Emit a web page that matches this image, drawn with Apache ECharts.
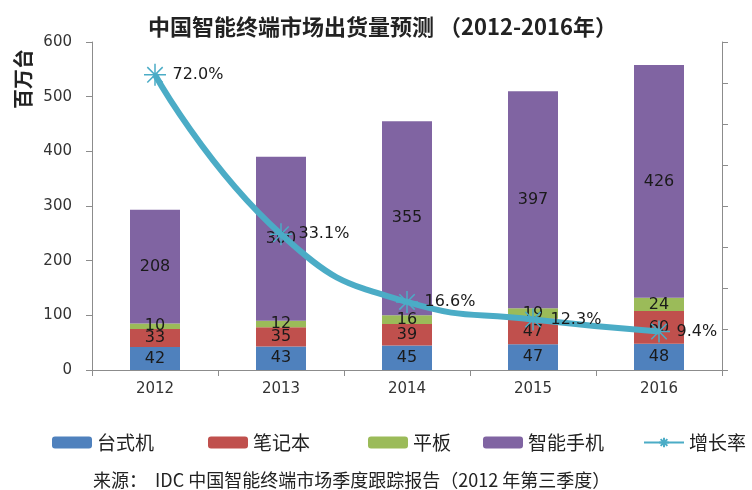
<!DOCTYPE html>
<html>
<head>
<meta charset="utf-8">
<script src="https://cdn.jsdelivr.net/npm/echarts@6/dist/echarts.min.js"></script>
<style>
  html, body { margin: 0; padding: 0; background: #fff; }
  #main { width: 752px; height: 490px; }
</style>
</head>
<body>
<div id="main"></div>
<script>
// data
var years = ['2012', '2013', '2014', '2015', '2016']
var desktop = [42, 43, 45, 47, 48]
var notebook = [33, 35, 39, 47, 60]
var tablet = [10, 12, 16, 19, 24]
var smartphone = [208, 300, 355, 397, 426]
var growth = [72.0, 33.1, 16.6, 12.3, 9.4]

var FONT = '"Noto Sans CJK SC", "DejaVu Sans", sans-serif'
var NUM = '"DejaVu Sans", sans-serif'

var chart = echarts.init(document.getElementById('main'))

function barSeries (name, data, color) {
  return {
    name: name,
    type: 'bar',
    stack: 'total',
    barWidth: 50,
    data: data,
    itemStyle: { color: color },
    label: {
      show: true,
      position: 'inside',
      color: '#1a1a1a',
      fontFamily: NUM,
      fontSize: 16
    }
  }
}

function legendAt (name, left) {
  return {
    data: [name],
    left: left,
    top: 428,
    itemWidth: 40,
    itemHeight: 12,
    textStyle: { fontFamily: FONT, fontSize: 19, color: '#222' }
  }
}

var star = 'path://M10,0L10,20M0,10L20,10M3,3L17,17M17,3L3,17'

var option = {
  backgroundColor: '#fff',
  animation: false,
  title: {
    text: '中国智能终端市场出货量预测 （2012-2016年）',
    left: 143,
    top: 11,
    textStyle: { fontFamily: FONT, fontSize: 22, fontWeight: 'bold', color: '#222' }
  },
  legend: [
    legendAt('台式机', 47),
    legendAt('笔记本', 203),
    legendAt('平板', 363),
    legendAt('智能手机', 478),
    legendAt('增长率', 638)
  ],
  grid: { left: 92, right: 30, top: 42, bottom: 120 },
  xAxis: {
    type: 'category',
    data: years,
    axisLine: { lineStyle: { color: '#8c8c8c', width: 1 } },
    axisTick: { show: true, alignWithLabel: false, length: 6, lineStyle: { color: '#8c8c8c' } },
    axisLabel: { fontFamily: NUM, fontSize: 15, color: '#333', margin: 12 }
  },
  yAxis: [
    {
      type: 'value',
      min: 0,
      max: 600,
      interval: 100,
      splitLine: { show: false },
      axisLine: { show: true, lineStyle: { color: '#8c8c8c' } },
      axisTick: { show: true, length: 6, lineStyle: { color: '#8c8c8c' } },
      axisLabel: { fontFamily: NUM, fontSize: 15, color: '#333', margin: 20 }
    },
    {
      type: 'value',
      min: 0,
      max: 80,
      interval: 10,
      position: 'right',
      splitLine: { show: false },
      axisLine: { show: true, lineStyle: { color: '#8c8c8c' } },
      axisTick: { show: true, length: 6, lineStyle: { color: '#8c8c8c' } },
      axisLabel: { show: false }
    }
  ],
  series: [
    barSeries('台式机', desktop, '#4f81bd'),
    barSeries('笔记本', notebook, '#c0504d'),
    barSeries('平板', tablet, '#9bbb59'),
    barSeries('智能手机', smartphone, '#8064a2'),
    {
      name: '增长率',
      type: 'line',
      yAxisIndex: 1,
      smooth: true,
      data: growth,
      z: 5,
      symbol: star,
      symbolSize: 22,
      showAllSymbol: true,
      lineStyle: { color: '#4bacc6', width: 6 },
      itemStyle: { color: 'none', borderColor: '#4bacc6', borderWidth: 1.5 },
      label: {
        show: true,
        position: 'right',
        distance: 4,
        color: '#1a1a1a',
        fontFamily: NUM,
        fontSize: 16,
        formatter: function (p) { return p.value.toFixed(1) + '%' }
      }
    }
  ],
  graphic: [
    {
      type: 'text',
      x: 23,
      y: 79,
      rotation: Math.PI / 2,
      style: {
        text: '百万台',
        fontFamily: FONT,
        fontSize: 20,
        fontWeight: 'bold',
        fill: '#222',
        textAlign: 'center',
        textVerticalAlign: 'middle'
      }
    },
    {
      type: 'text',
      x: 93,
      y: 480,
      style: {
        text: '来源：  IDC 中国智能终端市场季度跟踪报告（2012 年第三季度）',
        fontFamily: FONT,
        fontSize: 18,
        fill: '#222',
        textVerticalAlign: 'middle'
      }
    }
  ]
}

chart.setOption(option)
</script>
</body>
</html>
